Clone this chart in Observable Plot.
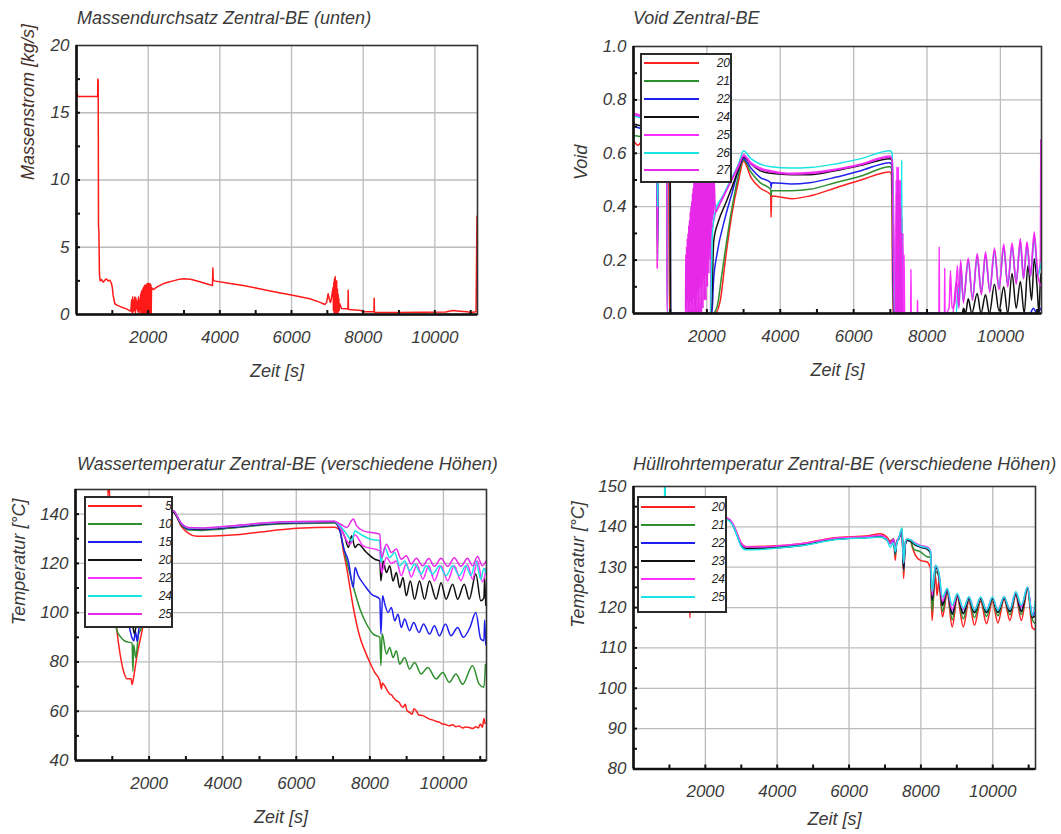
<!DOCTYPE html>
<html><head><meta charset="utf-8">
<script src="https://cdn.jsdelivr.net/npm/d3@7"></script>
<script src="https://cdn.jsdelivr.net/npm/@observablehq/plot@0.6"></script>
<style>
body{margin:0;background:#fff;font-family:"Liberation Sans",Arial,sans-serif;}
#root{position:relative;width:1061px;height:834px;overflow:hidden;background:#fff;}
.title{position:absolute;font-style:italic;font-size:18px;line-height:18px;color:#3a3a3a;white-space:nowrap;}
.legend{position:absolute;background:#fff;border:2px solid #2a2a2a;box-sizing:border-box;overflow:hidden;}
.legend .ln{position:absolute;height:2px;}
.legend .lb{position:absolute;font-style:italic;font-size:12px;line-height:12px;color:#222;text-align:right;width:24px;}
</style>
</head><body><div id="root"></div>
<script>
// ---------- shared axis values ----------
const xMajor = [2000, 4000, 6000, 8000, 10000];
const xMinor = [1000, 2000, 3000, 4000, 5000, 6000, 7000, 8000, 9000, 10000, 11000];
const xAxisLabel = "Zeit [s]";

// ---------- Panel 1: Massendurchsatz ----------
const p1Title = "Massendurchsatz Zentral-BE (unten)";
const p1YLabel = "Massenstrom [kg/s]";
const p1YTicks = [0, 5, 10, 15, 20];
const p1YGrid = [5, 10, 15];
const p1YMinor = [2.5, 5, 7.5, 10, 12.5, 15, 17.5];
const massFlow = [[0,16.6],[40,16.2],[590,16.2],[595,17.5],[605,17.4],[615,6.5],[625,6.2],[640,3.0],[660,2.5],[700,2.6],[744,2.4],[790,2.55],[837,2.65],[880,2.5],[930,2.55],[977,2.3],[1000,2.0],[1023,1.4],[1070,0.8],[1130,0.7],[1209,0.6],[1300,0.5],[1395,0.42],[1470,0.3],[1516,0.25],
[1540,1.1],[1555,0.1],[1570,1.3],[1585,0.2],[1600,1.0],[1615,0.3],[1630,1.3],[1645,0.1],[1660,1.2],[1680,0.4],[1700,1.0],[1715,0.2],[1730,1.3],[1745,0.1],[1760,1.1],[1775,0.3],
[1790,1.5],[1800,0.1],[1810,1.7],[1820,0.0],[1830,1.8],[1840,0.1],[1850,1.9],[1860,0.0],[1870,2.0],[1880,0.1],[1890,2.1],[1900,0.0],[1910,2.2],[1920,0.1],[1930,2.1],[1940,0.0],[1950,2.2],[1960,0.1],[1970,2.3],[1980,0.0],[1990,2.2],[2000,0.1],[2010,2.3],[2020,0.0],[2030,2.2],[2040,0.0],[2050,2.3],[2060,0.1],[2075,2.2],[2085,0.0],[2093,2.0],
[2140,1.85],[2250,2.05],[2418,2.28],[2550,2.4],[2697,2.5],[2883,2.63],[3000,2.65],[3162,2.63],[3209,2.6],[3441,2.43],[3600,2.3],[3795,2.16],[3805,3.45],[3815,2.6],[3842,2.5],[4200,2.35],[4651,2.16],[5100,1.92],[5581,1.66],[6000,1.45],[6511,1.17],[6800,0.9],[6930,0.74],[6980,0.9],[7023,1.55],[7050,1.2],[7080,0.9],[7100,1.0],
[7160,2.0],[7170,0.3],[7180,2.4],[7190,0.1],[7200,2.65],[7210,0.0],[7220,2.8],[7230,0.2],[7240,2.3],[7250,0.0],[7260,2.5],[7270,0.3],[7280,1.9],[7290,0.1],[7300,1.5],[7310,0.2],[7320,1.2],[7330,0.3],[7345,0.8],
[7395,0.45],[7540,0.42],[7575,0.4],[7581,1.8],[7590,0.38],[7950,0.3],[7980,0.2],[8300,0.2],[8307,1.2],[8315,0.15],[9000,0.15],[10300,0.18],[10500,0.3],[10700,0.25],[10900,0.2],[11000,0.15],[11150,0.2],[11175,7.3]];

// ---------- Panel 2: Void ----------
const p2Title = "Void Zentral-BE";
const p2YLabel = "Void";
const p2YTicks = [0, 0.2, 0.4, 0.6, 0.8, 1.0];
const p2YGrid = [0.2, 0.4, 0.6, 0.8];
const p2YMinor = [0.1, 0.2, 0.3, 0.4, 0.5, 0.6, 0.7, 0.8, 0.9];
const voidLabels = ["20", "21", "22", "24", "25", "26", "27"];
const voidColors = ["#ff2020", "#2e8f2e", "#2020ee", "#111111", "#ff30ff", "#18e4e4", "#e828e8"];
const void20 = [[0,0.648],[120,0.63],[240,0.645],[500,0.62],[640,0.6],[650,0.17],[665,0.58],[960,0.55],[980,0],[2220,0],[2367,0.05],[2503,0.2],[2683,0.373],[2864,0.498],[3000,0.57],[3200,0.51],[3450,0.47],[3740,0.445],[3750,0.36],[3765,0.44],[4300,0.43],[4800,0.44],[5500,0.47],[6200,0.5],[6990,0.53],[7030,0.52],[7045,0.372],[7070,0],[11120,0]];
const void21 = [[0,0.667],[240,0.66],[640,0.62],[655,0.22],[670,0.6],[990,0.56],[1005,0],[2160,0],[2277,0.025],[2412,0.15],[2593,0.32],[2773,0.46],[3000,0.575],[3200,0.53],[3450,0.49],[3740,0.465],[3750,0.44],[3765,0.46],[4300,0.46],[4800,0.465],[5500,0.49],[6200,0.515],[6990,0.55],[7040,0.54],[7080,0],[11120,0]];
const void22 = [[0,0.70],[240,0.69],[640,0.64],[655,0.2],[670,0.62],[1000,0.57],[1012,0],[2140,0],[2180,0.12],[2277,0.223],[2500,0.36],[2683,0.45],[2864,0.54],[3000,0.58],[3200,0.545],[3450,0.51],[3740,0.49],[3750,0.47],[3765,0.49],[4300,0.485],[4800,0.49],[5500,0.51],[6200,0.535],[6990,0.565],[7050,0.55],[7090,0],[10800,0],[10900,0.02],[11000,0],[11100,0.02]];
const void24 = [[0,0.71],[240,0.7],[640,0.66],[1000,0.58],[1012,0],[2120,0],[2187,0.273],[2322,0.348],[2503,0.41],[2683,0.473],[2864,0.54],[3000,0.585],[3200,0.56],[3450,0.535],[3740,0.525],[4300,0.52],[4800,0.52],[5500,0.535],[6200,0.555],[6990,0.58],[7050,0.57],[7100,0],[8950,0],[9000,0.02],[9050,0],[9124,0.055],[9220,0],[9368,0.075],[9470,0],[9594,0.07],[9700,0],[9838,0.11],[9960,0.01],[10091,0.1],[10200,0],[10317,0.15],[10430,0.02],[10543,0.12],[10650,0],[10750,0.18],[10850,0.05],[10923,0.205],[11000,0.1],[11050,0],[11100,0.15],[11120,0.12]];
const void25 = [[0,0.75],[240,0.74],[640,0.7],[650,0.167],[660,0.68],[910,0.6],[921,0],[2100,0],[2110,0.28],[2150,0.32],[2231,0.375],[2412,0.425],[2638,0.49],[2864,0.55],[3000,0.595],[3200,0.565],[3450,0.545],[3740,0.535],[4300,0.525],[4800,0.528],[5500,0.54],[6200,0.56],[6990,0.59],[7050,0.58],[7100,0.3],[7140,0],
[7150,0],[7160,0.5],[7170,0.05],[7180,0.55],[7190,0],[7200,0.52],[7210,0.1],[7220,0.55],[7230,0],[7240,0.5],[7250,0.05],[7260,0.48],[7270,0],[7280,0.5],[7290,0.1],[7300,0.42],[7310,0],[7320,0.36],[7330,0.05],[7345,0.3],[7360,0],[7375,0.22],[7390,0],[7555,0],[7562,0.166],[7570,0],[7735,0],[7740,0.05],[7748,0],[8325,0],[8332,0.25],[8340,0],[8475,0],[8482,0.17],[8490,0],[8600,0.02],[8640,0.16],[8680,0.02],[8760,0.04],[8830,0.18],[8870,0.04],[8916,0.2],[8990,0.05],[9124,0.207],[9240,0.06],[9368,0.225],[9480,0.08],[9594,0.23],[9710,0.09],[9838,0.245],[9960,0.1],[10091,0.26],[10200,0.11],[10317,0.265],[10430,0.12],[10543,0.28],[10630,0.14],[10724,0.27],[10820,0.15],[10923,0.305],[11020,0.15],[11090,0.2],[11100,0.65]];
const void26 = [[0,0.74],[240,0.73],[640,0.69],[660,0.4],[670,0.67],[915,0.6],[925,0],[2095,0],[2150,0.3],[2231,0.386],[2412,0.435],[2638,0.498],[2864,0.56],[3000,0.61],[3200,0.58],[3450,0.56],[3740,0.55],[4300,0.545],[4800,0.547],[5500,0.56],[6200,0.58],[6990,0.61],[7050,0.6],[7110,0],[7300,0],[7310,0.575],[7320,0],[8800,0],[8840,0.1],[8880,0.03],[8916,0.18],[8990,0.05],[9124,0.19],[9240,0.06],[9368,0.205],[9480,0.08],[9594,0.21],[9710,0.09],[9838,0.225],[9960,0.1],[10091,0.24],[10200,0.11],[10317,0.245],[10430,0.12],[10543,0.26],[10630,0.13],[10724,0.25],[10820,0.14],[10923,0.28],[11020,0.14],[11110,0.19]];
const void27 = [[0,0.745],[240,0.735],[640,0.69],[905,0.6],[915,0],[1418,0],
[1425,0.22],[1435,0.02],[1445,0.25],[1455,0],[1465,0.28],[1475,0.05],[1485,0.3],[1495,0],[1505,0.33],[1515,0.03],[1525,0.35],[1535,0],[1545,0.38],[1555,0.05],[1565,0.4],[1575,0],[1585,0.42],[1595,0.04],[1605,0.45],[1615,0],[1625,0.47],[1635,0.06],[1645,0.5],[1655,0],[1665,0.55],[1675,0.03],[1685,0.6],[1695,0],[1705,0.6],[1715,0.05],[1725,0.6],[1735,0],[1745,0.6],[1755,0.08],[1765,0.6],[1775,0],[1785,0.6],[1795,0.1],[1805,0.6],[1815,0],[1825,0.6],[1835,0.12],[1845,0.6],[1855,0],[1865,0.6],[1875,0.15],[1885,0.6],[1895,0.02],[1905,0.6],[1915,0.18],[1925,0.6],[1935,0.05],[1945,0.6],[1955,0.2],[1965,0.6],[1975,0.05],[1985,0.6],[1995,0.22],[2005,0.6],[2015,0.1],[2025,0.6],[2035,0.25],[2045,0.6],[2055,0.15],[2065,0.6],[2075,0.28],[2085,0.6],[2095,0.2],[2105,0.6],[2115,0.3],[2125,0.6],[2135,0.32],[2145,0.6],[2155,0.35],[2165,0.55],[2180,0.37],[2200,0.5],[2231,0.38],
[2412,0.43],[2638,0.49],[2864,0.555],[3000,0.59],[3200,0.56],[3450,0.54],[3740,0.53],[4300,0.522],[4800,0.524],[5500,0.537],[6200,0.557],[6990,0.585],[7050,0.575],[7100,0],
[7150,0],[7165,0.45],[7175,0],[7195,0.5],[7205,0],[7225,0.5],[7235,0],[7255,0.45],[7265,0],[7285,0.4],[7295,0],[7315,0.3],[7325,0],[7400,0],[8700,0],[8800,0.12],[8870,0.02],[8916,0.19],[8990,0.04],[9124,0.2],[9240,0.05],[9368,0.215],[9480,0.07],[9594,0.22],[9710,0.08],[9838,0.235],[9960,0.09],[10091,0.25],[10200,0.1],[10317,0.255],[10430,0.11],[10543,0.27],[10630,0.13],[10724,0.26],[10820,0.14],[10923,0.29],[11020,0.14],[11120,0.1]];

// ---------- Panel 3: Wassertemperatur ----------
const p3Title = "Wassertemperatur Zentral-BE (verschiedene Höhen)";
const p3YLabel = "Temperatur [°C]";
const p3YTicks = [40, 60, 80, 100, 120, 140];
const p3YGrid = [60, 80, 100, 120, 140];
const p3YMinor = [50, 60, 70, 80, 90, 100, 110, 120, 130, 140];
const waterLabels = ["5", "10", "15", "20", "22", "24", "25"];
const waterColors = ["#ff2020", "#2e8f2e", "#2020ee", "#111111", "#ff30ff", "#18e4e4", "#e828e8"];
const water5 = [[870,156],[885,147],[900,156],[1000,110],[1121,93.1],[1214,83],[1306,76.2],[1399,73.2],[1510,73.2],[1538,70.8],[1584,74.2],[1676,83],[1750,88.4],[1815,93.1],[2000,115],[2400,138],[2647,141],[2879,135],[3064,132.3],[3300,131],[3434,131],[3896,131.2],[4358,131.6],[5283,133.2],[6023,134.3],[7040,134.7],[7190,133.2],[7280,125],[7370,118.3],[7460,110.2],[7550,102.1],[7640,95.4],[7730,90],[7865,84.5],[8000,79.8],[8135,75.7],[8270,72.4],[8316,69],[8340,71.5],[8406,70.3],[8470,68.5],[8540,67],[8600,66.5],[8650,65.3],[8720,64.3],[8800,63.5],[8850,62.2],[8900,61.6],[8960,62.8],[9010,60.2],[9080,59.5],[9150,58.8],[9200,61],[9260,60.2],[9330,58.5],[9440,58.2],[9520,57.6],[9620,56.8],[9700,56.5],[9800,55.9],[9880,55.6],[9980,54.8],[10060,54.6],[10160,54.1],[10250,54.5],[10340,53.7],[10420,54],[10520,53.2],[10600,53.6],[10700,53.4],[10800,53],[10880,53.7],[10950,53.2],[11000,54.8],[11060,53.5],[11100,57],[11130,55]];
const water10 = [[500,130],[1000,110],[1121,93],[1214,90.4],[1353,88.4],[1538,87.7],[1560,76.2],[1580,87],[1640,81.6],[1710,91],[1790,93.8],[2000,118],[2400,138],[2647,141],[2879,135.5],[3064,133.6],[3434,133.4],[3896,133.8],[4358,134.5],[5283,135.8],[6023,136.2],[7040,136.4],[7190,133],[7325,123.8],[7460,115.7],[7595,108.2],[7730,101.5],[7910,95.4],[8090,91.3],[8270,90],[8300,78.5],[8334,91.4],[8450,83.2],[8540,85.9],[8630,81.8],[8720,84.5],[8810,79.1],[8945,81.8],[9080,77.1],[9215,79.8],[9395,75.1],[9575,77.8],[9800,73.1],[9980,75.7],[10160,71.7],[10340,75.1],[10520,71],[10790,78.5],[10970,71],[11100,69.7],[11140,79]];
const water15 = [[500,130],[1000,110],[1450,95],[1538,89.7],[1584,88.5],[1630,92.4],[1676,88.4],[1720,93.1],[1800,100],[2400,138],[2647,141],[2879,135.8],[3064,134],[3434,133.8],[3896,134.2],[4358,134.8],[5283,136.1],[6023,136.5],[7040,136.7],[7190,133],[7280,126.5],[7415,121],[7550,110.2],[7595,118.3],[7685,115],[7865,110.9],[8045,107.5],[8270,105.5],[8300,91.3],[8345,106.9],[8406,103.5],[8495,100.1],[8585,102.1],[8675,96.7],[8765,99.4],[8855,94],[8945,97.4],[9080,92.7],[9190,96],[9335,92],[9460,95.4],[9620,91.3],[9755,94.7],[9890,90.6],[10055,95.4],[10205,90.6],[10385,94],[10540,90],[10720,94],[10880,100.1],[11015,89.3],[11100,88.6],[11120,97],[11150,87]];
const water20 = [[500,130],[1000,110],[1550,95],[1600,91.5],[1650,95],[2000,120],[2400,138],[2647,141],[2879,136],[3064,134.3],[3434,134],[3896,134.4],[4358,135],[5283,136.2],[6023,136.6],[7040,136.8],[7190,134.6],[7325,130.5],[7415,126.5],[7505,131.2],[7595,126.5],[7685,127.8],[7910,124.4],[8135,121.7],[8270,121],[8300,112.9],[8360,121],[8450,116.3],[8540,119],[8630,112.9],[8720,116.3],[8810,110.2],[8900,114.3],[8990,106.9],[9100,112.9],[9215,105.5],[9350,112.9],[9485,105.5],[9620,112.9],[9800,105.5],[9935,112.2],[10070,105.5],[10250,111.5],[10385,105.5],[10565,111.5],[10700,105.5],[10880,115.7],[11015,104.8],[11100,106],[11120,114],[11150,103]];
const water22 = [[500,130],[2400,138],[2647,141.5],[2879,136.2],[3064,134.5],[3434,134.2],[3896,134.6],[4358,135.2],[5283,136.4],[6023,136.8],[7040,137],[7190,134.6],[7460,127.8],[7595,131.5],[7820,127.1],[8270,125.1],[8316,116.3],[8450,122.4],[8585,120],[8720,121],[8855,115],[8990,120],[9125,114.5],[9280,119.5],[9440,113.6],[9600,119],[9755,113],[9935,119],[10115,113],[10295,119],[10475,113],[10655,119.5],[10790,113.6],[10925,121],[11060,112.5],[11160,118]];
const water24 = [[500,130],[2400,138],[2647,141.5],[2879,136.2],[3064,134.5],[3434,134.3],[3896,134.7],[4358,135.3],[5283,136.5],[6023,136.9],[7040,137],[7190,135.3],[7370,131.9],[7505,129.2],[7595,133.2],[7730,132],[8000,129.9],[8270,129.2],[8300,120.4],[8406,126.5],[8540,122.4],[8675,124.4],[8810,119],[8945,121],[9080,117],[9215,119.7],[9395,115.7],[9530,119],[9710,115.7],[9890,119],[10070,115],[10250,119],[10430,115],[10610,119],[10745,115],[10880,121],[11015,113.6],[11100,118],[11160,116]];
const water25 = [[500,130],[2400,138],[2647,141.5],[2879,136.3],[3064,134.6],[3434,134.4],[3896,134.8],[4358,135.4],[5283,136.6],[6023,137],[7040,137.1],[7190,136],[7370,134.6],[7550,138],[7640,135.3],[7820,133.2],[8270,131.9],[8316,122.4],[8450,127.8],[8585,124.4],[8720,125.8],[8855,121.7],[8990,123.1],[9125,119.7],[9260,122.1],[9440,119],[9600,122],[9755,118.8],[9935,122.1],[10115,118.8],[10295,122.3],[10475,118.8],[10655,122.1],[10790,119],[10925,122.8],[11060,119],[11160,121]];

// ---------- Panel 4: Hüllrohrtemperatur ----------
const p4Title = "Hüllrohrtemperatur Zentral-BE (verschiedene Höhen)";
const p4YLabel = "Temperatur [°C]";
const p4YTicks = [80, 90, 100, 110, 120, 130, 140, 150];
const p4YGrid = [90, 100, 110, 120, 130, 140];
const p4YMinor = [85, 90, 95, 100, 105, 110, 115, 120, 125, 130, 135, 140, 145];
const cladLabels = ["20", "21", "22", "23", "24", "25"];
const cladColors = ["#ff2020", "#2e8f2e", "#2020ee", "#111111", "#ff30ff", "#18e4e4"];
const clad20 = [[500,145],[1400,142],[1540,125],[1574,117.5],[1600,130],[2000,143],[2615,142],[2757,140.8],[2900,138],[2994,136],[3136,135.1],[3704,135.2],[4651,135.8],[5598,137.3],[6544,137.8],[6867,138.3],[7053,137.5],[7146,136.5],[7239,137],[7286,131.7],[7330,136.5],[7379,137],[7473,139.6],[7519,127.2],[7560,135],[7612,136.7],[7706,136.7],[7760,135],[7846,133],[7986,131.7],[8172,131.3],[8265,129.7],[8312,116.8],[8360,124],[8405,128],[8450,123],[8499,126.5],[8600,117.7],[8732,123.5],[8872,115.2],[9012,122.5],[9180,115.2],[9338,121.5],[9490,115.6],[9664,121.5],[9826,116],[9990,121.5],[10143,116.2],[10316,122],[10478,116.8],[10642,123],[10795,116.8],[10969,124.5],[11100,115],[11190,114.5]];
const clad21 = [[500,145],[2615,142],[2757,140.7],[2900,137.8],[2994,135.7],[3136,134.8],[3704,134.9],[4651,135.6],[5598,137],[6544,137.5],[6867,137.8],[7053,136.9],[7146,136],[7239,137],[7286,133],[7330,136.5],[7379,137],[7473,139.2],[7519,129],[7560,135.5],[7612,136.7],[7706,136.5],[7800,134.5],[7986,133.8],[8172,132.6],[8265,132.5],[8312,119],[8405,129],[8499,127.5],[8600,119],[8732,124],[8872,117],[9012,123],[9180,117.2],[9338,122],[9490,117.5],[9664,122],[9826,117.8],[9990,122],[10143,118],[10316,122.3],[10478,118.2],[10642,123.3],[10795,118.3],[10969,124.8],[11100,117],[11190,116]];
const clad22 = [[500,145],[2615,142],[2757,140.6],[2900,137.6],[2994,135.5],[3136,134.6],[3704,134.7],[4651,135.4],[5598,136.9],[6544,137.4],[6867,137.6],[7053,136.8],[7146,135.8],[7239,136.8],[7286,133.5],[7330,136.3],[7379,136.9],[7473,139],[7519,129.5],[7560,135.5],[7612,136.6],[7706,136.6],[7846,135.6],[7986,135],[8172,134.6],[8265,133.8],[8312,122],[8405,130],[8499,128.3],[8600,121],[8732,124.5],[8872,118.5],[9012,123.2],[9180,118.6],[9338,122.4],[9490,118.8],[9664,122.3],[9826,118.8],[9990,122.3],[10143,118.9],[10316,122.5],[10478,119],[10642,123.5],[10795,119.2],[10969,125],[11100,118],[11190,119]];
const clad23 = [[500,145],[2615,142],[2757,140.6],[2900,137.6],[2994,135.5],[3136,134.6],[3704,134.7],[4651,135.4],[5598,136.9],[6544,137.4],[6867,137.6],[7053,136.7],[7146,136],[7239,137],[7286,133.5],[7330,136.5],[7379,137],[7473,139],[7519,129.7],[7560,135.5],[7612,136.7],[7706,136.5],[7846,135.5],[7986,135],[8172,134.5],[8265,133.5],[8312,121.8],[8405,130],[8499,128],[8600,120.5],[8732,124.3],[8872,118.3],[9012,123],[9180,118.5],[9338,122.3],[9490,118.7],[9664,122.2],[9826,118.8],[9990,122.2],[10143,118.8],[10316,122.4],[10478,119],[10642,123.5],[10795,119],[10969,124.8],[11100,117.5],[11190,118]];
const clad24 = [[500,145],[2615,142.2],[2757,141],[2900,138],[2994,136],[3136,135],[3704,135.1],[4651,135.8],[5598,137.2],[6544,137.6],[6867,137.9],[7053,137],[7146,135.9],[7239,137],[7286,134],[7330,136.5],[7379,137.2],[7473,139.3],[7519,131],[7560,136],[7612,137],[7706,136.8],[7846,136],[7986,135.4],[8172,135],[8265,134.2],[8312,123],[8405,130.5],[8499,128.5],[8600,121.5],[8732,124.7],[8872,119.5],[9012,123.3],[9180,119.5],[9338,122.6],[9490,119.4],[9664,122.5],[9826,119.4],[9990,122.5],[10143,119.4],[10316,122.7],[10478,119.6],[10642,123.8],[10795,120.2],[10969,125.1],[11100,118.5],[11190,121]];
const clad25 = [[500,145],[860,146],[875,153],[890,146],[2615,141.8],[2757,140.5],[2900,137.4],[2994,135.2],[3136,134.3],[3704,134.5],[4651,135.3],[5598,136.8],[6544,137.3],[6867,137.5],[7053,136.8],[7146,135],[7239,136],[7286,133.8],[7330,136],[7379,137],[7473,139.8],[7519,131],[7560,136],[7612,137],[7706,136.8],[7846,135.8],[7986,135.2],[8172,134.8],[8265,134],[8312,124],[8405,130.5],[8499,128.8],[8600,122.6],[8732,124.7],[8872,120.6],[9012,123.5],[9180,119.8],[9338,122.7],[9490,119.3],[9664,122.6],[9826,119.3],[9990,122.6],[10143,119.3],[10316,122.7],[10478,119.5],[10642,123.9],[10795,120.6],[10969,125.1],[11100,118],[11190,122]];

// ---------- layout helpers ----------
const root = document.getElementById("root");
function place(el, left, top) { el.style.position = "absolute"; el.style.left = left + "px"; el.style.top = top + "px"; root.appendChild(el); return el; }
function addTitle(text, left, top) { const d = document.createElement("div"); d.className = "title"; d.textContent = text; place(d, left, top); }
function addLegend(labels, colors, box) {
  const d = document.createElement("div"); d.className = "legend";
  d.style.width = box.w + "px"; d.style.height = box.h + "px";
  labels.forEach((lab, i) => {
    const cy = box.r0 + i * box.step;
    const ln = document.createElement("div"); ln.className = "ln";
    ln.style.left = box.l0 + "px"; ln.style.width = (box.l1 - box.l0) + "px"; ln.style.top = (cy - 1) + "px"; ln.style.background = colors[i];
    const lb = document.createElement("div"); lb.className = "lb"; lb.textContent = lab;
    lb.style.left = (box.lr - 24) + "px"; lb.style.top = (cy - 6) + "px";
    d.appendChild(ln); d.appendChild(lb);
  });
  place(d, box.x, box.y);
}

function panel(o) {
  const fw = o.width - o.ml - o.mr, fh = o.height - o.mt - o.mb;
  const marks = [
    Plot.gridX(xMajor, {stroke: "#bcbcbc", strokeOpacity: 1, strokeWidth: 1.3}),
    Plot.gridY(o.yGrid, {stroke: "#bcbcbc", strokeOpacity: 1, strokeWidth: 1.3}),
    ...o.series.map((s, i) => Plot.line(s, {x: d => d[0], y: d => d[1], stroke: o.colors[i], strokeWidth: 1.5, clip: true, curve: o.curve || "linear"})),
    Plot.frame({stroke: "#333", strokeWidth: 1.6}),
    Plot.ruleX([o.xDomain[0]], {stroke: "#111", strokeWidth: 2.6}),
    Plot.ruleY([o.yDomain[0]], {stroke: "#111", strokeWidth: 2.6}),
    Plot.tickX(xMinor, {x: d => d, insetTop: fh - 4, stroke: "#111", strokeWidth: 2}),
    Plot.tickY(o.yMinor, {y: d => d, insetRight: fw - 4, stroke: "#111", strokeWidth: 2}),
    Plot.axisX(xMajor, {anchor: "bottom", tickSize: 0, tickPadding: 16, label: null, tickFormat: d => String(d), fill: "#3a3a3a"}),
    Plot.axisY(o.yTicks, {anchor: "left", tickSize: 0, tickPadding: 7, label: null, tickFormat: o.yFormat, fill: "#3a3a3a"}),
    Plot.text([xAxisLabel], {text: d => d, frameAnchor: "bottom", dy: o.xLabelDy, fontSize: 18, fill: "#3a3a3a"}),
    Plot.text([o.yLabel], {text: d => d, frameAnchor: "left", rotate: -90, dx: o.yLabelDx, fontSize: 18, fill: o.yLabelColor || "#3a3a3a"})
  ];
  const svg = Plot.plot({
    width: o.width, height: o.height,
    marginLeft: o.ml, marginRight: o.mr, marginTop: o.mt, marginBottom: o.mb,
    style: {fontFamily: "'Liberation Sans', Arial, sans-serif", fontStyle: "italic", fontSize: "17px", background: "transparent", overflow: "visible"},
    x: {domain: o.xDomain}, y: {domain: o.yDomain},
    marks
  });
  place(svg, o.left, o.top);
}

// ---------- Panel 1 ----------
addTitle(p1Title, 77, 9);
panel({left: 0, top: 28, width: 530, height: 372, ml: 76, mr: 53, mt: 17, mb: 86,
  xDomain: [0, 11190], yDomain: [0, 20], yTicks: p1YTicks, yGrid: p1YGrid, yMinor: p1YMinor, yFormat: d => String(d),
  series: [massFlow], colors: ["#ff1a1a"], yLabel: p1YLabel, yLabelColor: "#45302a", xLabelDy: 62, yLabelDx: -48});

// ---------- Panel 2 ----------
addTitle(p2Title, 633, 9);
panel({left: 530, top: 28, width: 531, height: 372, ml: 103, mr: 20, mt: 18, mb: 87,
  xDomain: [0, 11120], yDomain: [0, 1], yTicks: p2YTicks, yGrid: p2YGrid, yMinor: p2YMinor, yFormat: d => d.toFixed(1), curve: "monotone-x",
  series: [void20, void21, void22, void24, void25, void26, void27], colors: voidColors, yLabel: p2YLabel, xLabelDy: 62, yLabelDx: -52});
addLegend(voidLabels, voidColors, {x: 640, y: 53, w: 92, h: 130, r0: 8, step: 17.9, l0: 2, l1: 57, lr: 88});

// ---------- Panel 3 ----------
addTitle(p3Title, 77, 455);
panel({left: 0, top: 472, width: 530, height: 362, ml: 75, mr: 44, mt: 17, mb: 74,
  xDomain: [0, 11170], yDomain: [40, 150], yTicks: p3YTicks, yGrid: p3YGrid, yMinor: p3YMinor, yFormat: d => String(d), curve: "monotone-x",
  series: [water5, water10, water15, water20, water22, water24, water25], colors: waterColors, yLabel: p3YLabel, xLabelDy: 62, yLabelDx: -56});
addLegend(waterLabels, waterColors, {x: 84, y: 496, w: 89, h: 132, r0: 8, step: 18, l0: 2, l1: 56, lr: 86});

// ---------- Panel 4 ----------
addTitle(p4Title, 633, 455);
panel({left: 530, top: 472, width: 531, height: 362, ml: 103, mr: 26, mt: 14, mb: 65.5,
  xDomain: [0, 11190], yDomain: [80, 150], yTicks: p4YTicks, yGrid: p4YGrid, yMinor: p4YMinor, yFormat: d => String(d), curve: "monotone-x",
  series: [clad20, clad21, clad22, clad23, clad24, clad25], colors: cladColors, yLabel: p4YLabel, xLabelDy: 56, yLabelDx: -55});
addLegend(cladLabels, cladColors, {x: 637, y: 496, w: 90, h: 117, r0: 9, step: 17.9, l0: 2, l1: 56, lr: 86});
</script>
</body></html>
